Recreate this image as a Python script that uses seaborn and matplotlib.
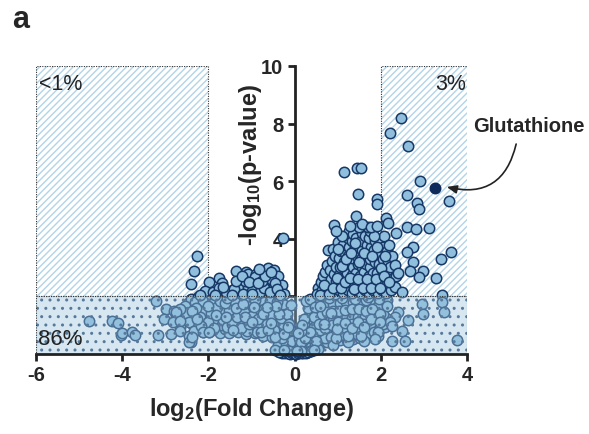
import matplotlib
matplotlib.use('Agg')
import matplotlib.pyplot as plt
from matplotlib.patches import Rectangle
import pandas as pd
import seaborn as sns

sns.set_style('ticks')
plt.rcParams['font.family'] = ['Liberation Sans', 'DejaVu Sans']
plt.rcParams['mathtext.fontset'] = 'custom'
plt.rcParams['mathtext.rm'] = 'Liberation Sans'
plt.rcParams['mathtext.bf'] = 'Liberation Sans:bold'
plt.rcParams['mathtext.default'] = 'bf'
plt.rcParams['axes.unicode_minus'] = False
plt.rcParams['hatch.linewidth'] = 1.0

# ---- data (log2 fold change, -log10 p) ----
band_left = [(-2.62, 1.52), (-2.55, 1.21), (-2.66, 0.93), (-2.48, 1.78),
             (-2.41, 1.92), (-2.37, 1.62), (-2.44, 1.33), (-2.35, 1.02), (-2.46, 0.61), (-2.40, 0.41),
             (-2.24, 1.97), (-2.18, 1.71), (-2.27, 1.42), (-2.15, 1.12), (-2.22, 0.83), (-2.13, 0.77),
             (-2.03, 1.88), (-1.97, 1.58), (-2.06, 1.31), (-1.95, 0.99), (-1.99, 0.76),
             (-1.84, 1.96), (-1.78, 1.74), (-1.86, 1.49), (-1.75, 1.22), (-1.81, 0.94), (-1.73, 0.74),
             (-1.63, 1.89), (-1.57, 1.66), (-1.66, 1.41), (-1.55, 1.13), (-1.61, 0.88), (-1.52, 0.73),
             (-1.43, 1.94), (-1.37, 1.69), (-1.46, 1.46), (-1.34, 1.19), (-1.41, 0.96), (-1.32, 0.77),
             (-1.23, 1.91), (-1.17, 1.63), (-1.26, 1.38), (-1.15, 1.16), (-1.21, 0.89), (-1.12, 0.69),
             (-1.03, 1.95), (-0.97, 1.71), (-1.06, 1.44), (-0.95, 1.21), (-1.01, 0.93), (-0.93, 0.72),
             (-0.83, 1.88), (-0.77, 1.64), (-0.86, 1.39), (-0.75, 1.14), (-0.81, 0.91), (-0.73, 0.62),
             (-0.63, 1.94), (-0.57, 1.72), (-0.66, 1.47), (-0.55, 1.19), (-0.61, 0.96), (-0.53, 0.59),
             (-0.43, 1.91), (-0.37, 1.58), (-0.46, 1.31), (-0.35, 1.02), (-0.41, 0.71), (-0.33, 0.46),
             (-0.39, 0.30), (-0.23, 1.52), (-0.17, 1.19), (-0.26, 0.88), (-0.15, 0.61), (-0.21, 0.36),
             (-0.13, 0.19), (-0.19, 0.08), (-0.06, 0.58), (-0.03, 0.31), (-0.08, 0.12), (-0.02, 0.04),
             (-2.30, 1.80), (-2.10, 1.50), (-2.32, 1.15), (-2.08, 0.95), (-1.92, 1.75), (-1.70, 1.55),
             (-1.90, 1.15), (-1.68, 1.00), (-1.50, 1.80), (-1.28, 1.55), (-1.48, 1.28), (-1.27, 1.05),
             (-1.10, 1.82), (-0.90, 1.55), (-1.08, 1.30), (-0.88, 1.03), (-0.70, 1.80), (-0.50, 1.55),
             (-0.68, 1.28), (-0.48, 0.85), (-0.30, 0.55), (-0.28, 1.75), (-0.27, 1.05), (-0.10, 0.85),
             (-0.88, 0.78), (-1.10, 0.80), (-1.92, 0.85), (-2.55, 1.65), (-2.75, 1.30),
             (-2.52, 1.42), (-2.45, 1.10), (-2.33, 0.80), (-2.20, 1.28), (-2.12, 1.85), (-2.02, 1.10),
             (-1.95, 1.42), (-1.88, 0.92), (-1.80, 1.62), (-1.72, 1.85), (-1.65, 1.18), (-1.58, 0.95),
             (-1.53, 1.52), (-1.45, 1.05), (-1.38, 1.82), (-1.33, 1.30), (-1.25, 0.92), (-1.18, 1.45),
             (-1.12, 1.98), (-1.05, 1.05), (-0.98, 1.33), (-0.92, 1.88), (-0.85, 1.20), (-0.78, 0.78),
             (-0.72, 1.55), (-0.65, 1.05), (-0.58, 1.85), (-0.52, 1.35), (-0.45, 0.60), (-0.40, 1.80),
             (-0.32, 1.25), (-0.25, 0.70), (-0.18, 1.40), (-0.12, 1.05), (-0.08, 1.70), (-0.05, 0.45),
             (-0.62, 0.82), (-1.42, 0.82), (-1.62, 1.78), (-2.28, 1.60),
             (-2.38, 1.48), (-2.17, 0.98), (-1.83, 1.35), (-1.60, 1.28), (-1.36, 1.58), (-1.14, 1.30),
             (-0.94, 1.62), (-0.74, 1.38), (-0.54, 1.08), (-0.36, 1.40), (-0.16, 0.95), (-0.44, 1.68),
             (-0.64, 1.62), (-1.00, 1.12), (-1.20, 1.72), (-1.56, 1.96), (-2.00, 1.68), (-2.26, 1.22)]

band_right = [(0.05, 0.06), (0.08, 0.18), (0.12, 0.35), (0.10, 0.55),
              (0.18, 0.12), (0.22, 0.28), (0.19, 0.62), (0.24, 0.90),
              (0.28, 0.20), (0.32, 0.45), (0.29, 0.72), (0.34, 1.02), (0.31, 1.30),
              (0.38, 0.25), (0.42, 0.52), (0.39, 0.81), (0.44, 1.12), (0.41, 1.41), (0.43, 1.72),
              (0.48, 0.31), (0.53, 0.60), (0.49, 0.92), (0.55, 1.21), (0.51, 1.52), (0.54, 1.83),
              (0.62, 0.38), (0.66, 0.68), (0.61, 0.97), (0.67, 1.26), (0.63, 1.55), (0.68, 1.84),
              (0.76, 0.42), (0.81, 0.71), (0.77, 1.01), (0.82, 1.29), (0.78, 1.58), (0.83, 1.87),
              (0.91, 0.45), (0.96, 0.74), (0.92, 1.03), (0.97, 1.32), (0.93, 1.61), (0.98, 1.90),
              (1.06, 0.48), (1.11, 0.77), (1.07, 1.06), (1.12, 1.35), (1.08, 1.64), (1.13, 1.93),
              (1.21, 0.50), (1.26, 0.80), (1.22, 1.09), (1.27, 1.38), (1.23, 1.67), (1.28, 1.95),
              (1.36, 0.52), (1.41, 0.82), (1.37, 1.11), (1.42, 1.40), (1.38, 1.69), (1.43, 1.94),
              (1.51, 0.55), (1.56, 0.84), (1.52, 1.13), (1.57, 1.42), (1.53, 1.71), (1.58, 1.96),
              (1.66, 0.58), (1.71, 0.87), (1.67, 1.16), (1.72, 1.45), (1.68, 1.74), (1.73, 1.95),
              (1.81, 0.62), (1.86, 0.90), (1.82, 1.19), (1.87, 1.48), (1.83, 1.77),
              (1.96, 0.85), (2.01, 1.15), (1.97, 1.45), (2.03, 1.75),
              (2.11, 1.25), (2.08, 1.60), (2.14, 1.88),
              (0.70, 0.55), (0.85, 0.58), (1.00, 0.62), (1.15, 0.65), (1.30, 0.66), (1.45, 0.68),
              (1.60, 0.70), (1.75, 0.72), (0.72, 1.12), (0.88, 1.15), (1.03, 1.20), (1.18, 1.22),
              (1.33, 1.25), (1.48, 1.27), (1.63, 1.30), (1.78, 1.32), (0.58, 1.40), (0.74, 1.72),
              (0.90, 1.75), (1.05, 1.78), (1.20, 1.80), (1.35, 1.82), (1.50, 1.84), (1.65, 1.86),
              (0.45, 0.95), (0.60, 0.85), (1.90, 1.05), (1.92, 1.62), (0.88, 0.30), (0.55, 0.18),
              (0.35, 0.12), (1.25, 0.40), (1.60, 0.45),
              (0.15, 0.42), (0.25, 0.55), (0.36, 0.78), (0.40, 1.55), (0.46, 1.28), (0.50, 0.45),
              (0.57, 1.05), (0.64, 1.40), (0.70, 0.90), (0.75, 1.45), (0.80, 1.95), (0.86, 1.00),
              (0.90, 1.48), (0.95, 0.55), (1.00, 1.10), (1.04, 1.50), (1.10, 1.95), (1.14, 0.95),
              (1.18, 1.52), (1.24, 0.62), (1.30, 1.05), (1.34, 1.55), (1.40, 1.90), (1.45, 0.95),
              (1.50, 1.55), (1.55, 0.62), (1.62, 1.05), (1.66, 1.50), (1.70, 1.98), (1.76, 1.05),
              (1.80, 1.55), (1.85, 0.75), (1.90, 1.25), (1.95, 1.90), (2.05, 1.40), (2.10, 0.95),
              (2.15, 1.65), (0.30, 1.60), (0.22, 1.20), (0.14, 0.80),
              (0.26, 1.85), (0.36, 1.92), (0.47, 1.62), (0.59, 1.68), (0.69, 1.05), (0.84, 1.42),
              (0.99, 0.88), (1.16, 1.08), (1.32, 0.92), (1.47, 1.12), (1.61, 0.95), (1.77, 1.20),
              (1.93, 0.62), (2.06, 1.05), (0.18, 1.02), (0.08, 0.72)]

origin_blob = [(-0.30, 0.05), (-0.22, 0.02), (-0.15, 0.03), (-0.10, 0.01), (-0.05, 0.02), (0.00, 0.00),
               (0.04, 0.01), (0.09, 0.03), (0.14, 0.02), (0.20, 0.05), (0.26, 0.04), (0.32, 0.07),
               (0.38, 0.10), (-0.36, 0.08), (-0.45, 0.15), (0.45, 0.13), (0.15, 0.10), (-0.12, 0.10),
               (0.05, 0.12), (-0.25, 0.15)]

upper_left = [(-2.27, 3.41), (-2.34, 2.88), (-2.40, 2.43), (-1.98, 2.49), (-1.76, 2.63), (-1.68, 2.47),
              (-1.37, 2.89), (-1.12, 2.86), (-1.09, 2.78), (-0.89, 2.78), (-0.93, 2.66), (-0.62, 2.99),
              (-0.48, 2.93), (-1.30, 2.47), (-1.28, 2.31), (-1.09, 2.31), (-0.92, 2.36), (-0.62, 2.45),
              (-0.50, 2.28), (-2.09, 2.20), (-1.90, 2.14), (-1.51, 2.20), (-0.39, 2.72), (-0.43, 2.16),
              (-0.28, 4.02), (-1.60, 2.15), (-1.40, 2.25), (-1.20, 2.10), (-1.00, 2.20), (-0.80, 2.15),
              (-0.70, 2.30), (-0.55, 2.60), (-0.30, 2.40), (-0.25, 2.10), (-1.75, 2.30), (-2.20, 2.05),
              (-0.75, 2.55), (-1.15, 2.55), (-0.45, 2.45),
              (-1.85, 2.05), (-1.65, 2.32), (-1.45, 2.05), (-1.35, 2.55), (-1.22, 2.70), (-1.05, 2.50),
              (-0.98, 2.10), (-0.85, 2.45), (-0.68, 2.72), (-0.58, 2.15), (-0.40, 2.25), (-0.33, 2.05),
              (-0.55, 2.85), (-0.82, 2.95)]

left_tail = [(-3.22, 1.83), (-4.78, 1.13), (-4.24, 1.13), (-4.09, 1.08), (-4.03, 0.67), (-4.01, 0.73),
             (-3.77, 0.77), (-3.70, 0.67), (-3.18, 0.67), (-2.98, 1.56), (-2.79, 1.50), (-2.67, 1.56),
             (-2.75, 1.45), (-3.02, 1.22), (-2.83, 1.10), (-2.67, 1.16), (-2.87, 0.69), (-2.67, 0.81),
             (-2.46, 0.41), (-2.38, 0.58), (-2.13, 0.75), (-1.98, 0.75)]

upper_right = [(0.54, 2.28), (0.52, 2.10), (0.63, 2.22), (0.61, 2.50), (0.66, 2.71),
               (0.72, 2.12), (0.74, 2.41), (0.71, 2.83), (0.76, 3.10), (0.77, 3.62),
               (0.83, 2.30), (0.85, 2.62), (0.81, 2.91), (0.86, 3.22), (0.88, 3.65),
               (0.93, 2.08), (0.95, 2.52), (0.92, 2.79), (0.97, 3.02), (0.94, 3.41),
               (1.03, 2.21), (1.05, 2.44), (1.02, 2.73), (1.06, 3.01), (1.04, 3.32), (1.07, 3.58), (1.01, 3.88),
               (1.13, 2.12), (1.15, 2.35), (1.12, 2.62), (1.16, 2.93), (1.14, 3.21), (1.17, 3.52), (1.12, 3.80),
               (1.23, 2.22), (1.25, 2.51), (1.22, 2.81), (1.26, 3.12), (1.24, 3.41), (1.27, 3.70), (1.23, 4.02),
               (1.26, 4.28), (1.33, 2.11), (1.35, 2.42), (1.32, 2.73), (1.36, 3.02), (1.34, 3.33), (1.37, 3.62),
               (1.33, 3.91), (1.35, 4.18), (1.43, 2.23), (1.45, 2.52), (1.42, 2.81), (1.46, 3.11), (1.44, 3.42),
               (1.47, 3.71), (1.43, 4.02), (1.53, 2.12), (1.55, 2.41), (1.52, 2.72), (1.56, 3.01), (1.54, 3.31),
               (1.57, 3.62), (1.53, 3.92), (1.56, 4.21), (1.63, 2.21), (1.65, 2.52), (1.62, 2.83), (1.66, 3.12),
               (1.64, 3.43), (1.67, 3.80), (1.63, 4.10), (1.73, 2.11), (1.75, 2.42), (1.72, 2.71), (1.76, 3.02),
               (1.74, 3.31), (1.77, 3.71), (1.73, 4.02), (1.76, 4.28), (1.83, 2.22), (1.85, 2.51), (1.82, 2.82),
               (1.86, 3.21), (1.84, 3.62), (1.87, 3.93), (1.93, 2.11), (1.95, 2.43), (1.92, 2.81), (1.96, 3.12),
               (1.94, 3.52), (1.97, 3.88), (2.03, 2.22), (2.05, 2.52), (2.02, 2.91), (2.06, 3.31), (2.04, 3.71),
               (2.07, 4.08), (2.13, 2.11), (2.15, 2.43), (2.12, 2.82), (2.16, 3.22), (2.14, 3.58),
               (2.23, 2.21), (2.25, 2.62), (2.22, 3.01), (2.26, 3.41), (2.33, 2.32), (2.35, 2.71), (2.32, 3.08),
               (0.60, 2.05), (0.68, 2.40), (0.80, 2.10), (0.90, 2.30), (0.98, 2.65), (1.08, 2.28),
               (1.10, 3.05), (1.18, 2.50), (1.20, 3.30), (1.28, 2.65), (1.30, 3.50), (1.38, 2.25),
               (1.40, 3.85), (1.48, 2.60), (1.50, 3.20), (1.58, 2.30), (1.60, 3.50), (1.68, 2.60),
               (1.70, 4.40), (1.78, 2.30), (1.80, 3.40), (1.88, 2.60), (1.90, 3.70), (1.98, 2.30),
               (2.00, 3.00), (2.08, 2.70), (2.10, 3.40), (2.18, 2.50), (2.20, 3.80), (1.00, 3.65),
               (1.10, 4.10), (1.50, 4.40), (1.85, 4.10)]

right_outliers = [(2.46, 8.18), (2.22, 7.66), (2.64, 7.21), (1.15, 6.31), (1.45, 6.46), (1.55, 6.46),
                  (2.92, 6.00), (1.47, 5.57), (1.90, 5.38), (1.90, 5.21), (2.60, 5.51), (3.58, 5.31),
                  (2.85, 5.24), (2.88, 5.03), (1.43, 4.80), (2.13, 4.73), (0.91, 4.48), (0.95, 4.26),
                  (1.29, 4.46), (1.57, 4.51), (1.78, 4.40), (1.90, 4.46), (2.17, 4.55), (2.35, 4.19),
                  (2.61, 4.40), (2.81, 4.34), (3.12, 4.38), (2.75, 3.70), (2.61, 3.55), (3.62, 3.53),
                  (3.40, 3.30), (2.74, 3.20), (2.67, 2.89), (2.98, 2.89), (2.40, 2.81), (2.88, 2.68),
                  (3.27, 2.63), (3.43, 2.05), (2.50, 2.16),
                  (2.96, 1.74), (3.41, 1.82), (2.98, 1.39), (3.47, 1.45), (2.40, 1.45), (2.33, 1.27),
                  (2.21, 1.10), (2.25, 0.98), (2.62, 1.18), (2.48, 0.81), (2.27, 0.44), (2.55, 0.44),
                  (3.76, 0.49), (1.94, 0.75), (1.86, 0.52), (1.98, 1.39), (1.98, 1.11)]

glutathione_x = 3.26
glutathione_y = 5.76

all_points = band_left + band_right + origin_blob + upper_left + left_tail + upper_right + right_outliers
df = pd.DataFrame(all_points, columns=['log2fc', 'neglog10p'])

fill_col = '#8fbfdd'
edge_col = '#173866'

fig = plt.figure(figsize=(5.89, 4.35), dpi=100)
ax = fig.add_axes([0.0611, 0.1839, 0.7318, 0.6621])

# hatched significance regions (behind points)
for x0 in (-6, 2):
    ax.add_patch(Rectangle((x0, 2), 4, 8, facecolor='white', edgecolor='#b3d4e8',
                           hatch='/////', linewidth=0, zorder=0.2))
    ax.add_patch(Rectangle((x0, 2), 4, 8, fill=False, edgecolor='#333333',
                           linestyle=(0, (1, 1.2)), linewidth=0.8, zorder=0.3))

sns.scatterplot(data=df, x='log2fc', y='neglog10p', ax=ax, s=56, color=fill_col,
                edgecolor=edge_col, linewidth=1.1, zorder=3, clip_on=False, legend=False)
ax.scatter([glutathione_x], [glutathione_y], s=56, color='#0e2a5a', edgecolor='#0e2a5a',
           linewidth=1.1, zorder=3.5)

# non-significant band, drawn over the points
ax.add_patch(Rectangle((-6, 0), 10, 2, facecolor=(0.60, 0.77, 0.87, 0.4), edgecolor='#58799a',
                       hatch='..', linewidth=0, zorder=4))
ax.add_patch(Rectangle((-6, 0), 10, 2, fill=False, edgecolor='#333333',
                       linestyle=(0, (1, 1.2)), linewidth=0.8, zorder=4.1))

ax.set_xlim(-6, 4)
ax.set_ylim(0, 10)
ax.set_xticks([-6, -4, -2, 0, 2, 4])
ax.set_yticks([2, 4, 6, 8, 10])
ax.spines['left'].set_position(('data', 0))
ax.spines['top'].set_visible(False)
ax.spines['right'].set_visible(False)
ax.spines['left'].set_linewidth(2.0)
ax.spines['bottom'].set_linewidth(2.0)
ax.spines['left'].set_color('#222222')
ax.spines['bottom'].set_color('#222222')
ax.spines['bottom'].set_zorder(6)
ax.set_axisbelow(True)
ax.tick_params(axis='both', length=5, width=2.0, color='#222222', labelsize=14.5, pad=3)
for lab in ax.get_xticklabels() + ax.get_yticklabels():
    lab.set_fontweight('bold')
ax.set_xlabel('log$_2$(Fold Change)', fontsize=17, fontweight='bold', labelpad=8)
ax.set_ylabel('')
ax.text(0.497, 0.66, '-log$_{10}$(p-value)', transform=ax.transAxes, rotation=90,
        ha='center', va='center', fontsize=17, fontweight='bold')

ax.text(-5.93, 9.76, '<1%', fontsize=15.5, ha='left', va='top', color='#222222', zorder=5)
ax.text(3.98, 9.76, '3%', fontsize=15.5, ha='right', va='top', color='#222222', zorder=5)
ax.text(-5.96, 0.35, '86%', fontsize=16, ha='left', va='baseline', color='#222222', zorder=5)

ax.text(4.14, 7.95, 'Glutathione', fontsize=14.5, fontweight='bold', ha='left', va='center',
        clip_on=False)
ax.annotate('', xy=(3.53, 5.80), xytext=(5.14, 7.29), annotation_clip=False,
            arrowprops=dict(arrowstyle='-|>,head_length=0.6,head_width=0.25', color='#222222',
                            lw=1.2, connectionstyle='arc3,rad=-0.5', shrinkA=0, shrinkB=0))

fig.text(0.02, 0.936, 'a', fontsize=22, fontweight='bold')

fig.savefig('out.png', dpi=100)
